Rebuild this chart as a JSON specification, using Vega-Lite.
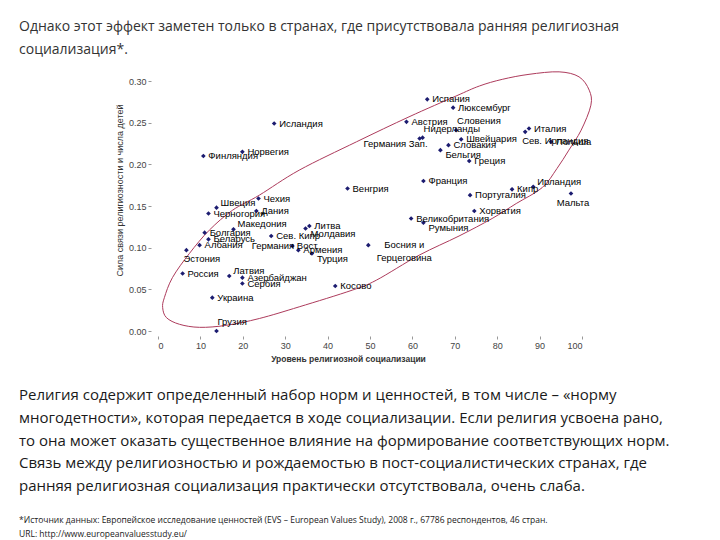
{
  "$schema": "https://vega.github.io/schema/vega-lite/v6.json",
  "background": "white",
  "padding": {"left": 19, "top": 19, "right": 5, "bottom": 0},
  "bounds": "flush",
  "spacing": 210,
  "title": {
    "text": ["Однако этот эффект заметен только в странах, где присутствовала ранняя религиозная", "социализация*."],
    "anchor": "start",
    "frame": "group",
    "dx": -139,
    "offset": 13,
    "font": "Open Sans",
    "fontSize": 14,
    "fontWeight": "normal",
    "lineHeight": 23,
    "color": "#333333"
  },
  "datasets": {
    "countries": [
      {"country": "Исландия", "x": 27.4, "y": 0.249},
      {"country": "Финляндия", "x": 10.7, "y": 0.210},
      {"country": "Норвегия", "x": 19.9, "y": 0.215},
      {"country": "Испания", "x": 63.5, "y": 0.278},
      {"country": "Люксембург", "x": 69.6, "y": 0.268},
      {"country": "Австрия", "x": 58.6, "y": 0.251},
      {"country": "Германия Зап.", "x": 61.7, "y": 0.231},
      {"country": "Нидерланды", "x": 62.4, "y": 0.232},
      {"country": "Словения", "x": 70.3, "y": 0.241},
      {"country": "Швейцария", "x": 71.5, "y": 0.230},
      {"country": "Словакия", "x": 68.5, "y": 0.223},
      {"country": "Бельгия", "x": 66.6, "y": 0.217},
      {"country": "Греция", "x": 73.4, "y": 0.204},
      {"country": "Италия", "x": 87.5, "y": 0.243},
      {"country": "Сев. Ирландия", "x": 86.6, "y": 0.239},
      {"country": "Польша", "x": 92.7, "y": 0.227},
      {"country": "Франция", "x": 62.6, "y": 0.180},
      {"country": "Венгрия", "x": 44.7, "y": 0.171},
      {"country": "Португалия", "x": 73.6, "y": 0.163},
      {"country": "Кипр", "x": 83.5, "y": 0.170},
      {"country": "Ирландия", "x": 88.5, "y": 0.173},
      {"country": "Мальта", "x": 97.4, "y": 0.165},
      {"country": "Хорватия", "x": 74.6, "y": 0.144},
      {"country": "Великобритания", "x": 59.7, "y": 0.135},
      {"country": "Румыния", "x": 62.6, "y": 0.130},
      {"country": "Литва", "x": 35.7, "y": 0.126},
      {"country": "Молдавия", "x": 34.8, "y": 0.123},
      {"country": "Босния и\nГерцеговина", "x": 49.6, "y": 0.103},
      {"country": "Косово", "x": 41.8, "y": 0.054},
      {"country": "Сев. Кипр", "x": 26.7, "y": 0.114},
      {"country": "Германия Вост.", "x": 31.7, "y": 0.102},
      {"country": "Армения", "x": 33.1, "y": 0.097},
      {"country": "Турция", "x": 36.3, "y": 0.093},
      {"country": "Швеция", "x": 13.8, "y": 0.148},
      {"country": "Чехия", "x": 23.7, "y": 0.159},
      {"country": "Черногория", "x": 11.9, "y": 0.141},
      {"country": "Дания", "x": 23.2, "y": 0.144},
      {"country": "Македония", "x": 17.8, "y": 0.122},
      {"country": "Болгария", "x": 11.0, "y": 0.118},
      {"country": "Беларусь", "x": 11.9, "y": 0.110},
      {"country": "Албания", "x": 9.8, "y": 0.103},
      {"country": "Эстония", "x": 6.7, "y": 0.097},
      {"country": "Россия", "x": 5.8, "y": 0.069},
      {"country": "Латвия", "x": 16.8, "y": 0.066},
      {"country": "Азербайджан", "x": 19.9, "y": 0.064},
      {"country": "Сербия", "x": 19.9, "y": 0.057},
      {"country": "Украина", "x": 12.8, "y": 0.040},
      {"country": "Грузия", "x": 13.8, "y": 0.0}
    ],
    "ellipse": [
      {"i": 1, "x": 102.1, "y": 0.271},
      {"i": 2, "x": 101.7, "y": 0.289},
      {"i": 3, "x": 99.3, "y": 0.305},
      {"i": 4, "x": 94.6, "y": 0.311},
      {"i": 5, "x": 87.5, "y": 0.308},
      {"i": 6, "x": 81.2, "y": 0.302},
      {"i": 7, "x": 75.8, "y": 0.294},
      {"i": 8, "x": 70.3, "y": 0.282},
      {"i": 9, "x": 59.2, "y": 0.257},
      {"i": 10, "x": 46.8, "y": 0.227},
      {"i": 11, "x": 33.3, "y": 0.193},
      {"i": 12, "x": 23.9, "y": 0.163},
      {"i": 13, "x": 17.6, "y": 0.145},
      {"i": 14, "x": 12.1, "y": 0.121},
      {"i": 15, "x": 7.4, "y": 0.093},
      {"i": 16, "x": 3.4, "y": 0.064},
      {"i": 17, "x": 1.5, "y": 0.040},
      {"i": 18, "x": 1.1, "y": 0.028},
      {"i": 19, "x": 2.0, "y": 0.016},
      {"i": 20, "x": 5.1, "y": 0.008},
      {"i": 21, "x": 9.8, "y": 0.0044},
      {"i": 22, "x": 16.1, "y": 0.0068},
      {"i": 23, "x": 23.9, "y": 0.015},
      {"i": 24, "x": 33.3, "y": 0.029},
      {"i": 25, "x": 45.8, "y": 0.049},
      {"i": 26, "x": 51.5, "y": 0.061},
      {"i": 27, "x": 61.6, "y": 0.091},
      {"i": 28, "x": 71.0, "y": 0.114},
      {"i": 29, "x": 78.8, "y": 0.135},
      {"i": 30, "x": 84.5, "y": 0.153},
      {"i": 31, "x": 90.6, "y": 0.172},
      {"i": 32, "x": 94.1, "y": 0.195},
      {"i": 33, "x": 96.9, "y": 0.217},
      {"i": 34, "x": 99.8, "y": 0.241}
    ]
  },
  "vconcat": [
    {
      "width": 424,
      "height": 250,
      "encoding": {
        "x": {
          "field": "x", "type": "quantitative",
          "scale": {"domain": [0, 100], "nice": false, "zero": false},
          "axis": {
            "title": "Уровень религиозной социализации",
            "values": [0, 10, 20, 30, 40, 50, 60, 70, 80, 90, 100],
            "format": "d",
            "grid": false, "domain": false,
            "offset": 5, "tickSize": 3, "tickColor": "#999999",
            "labelPadding": 2, "labelFont": "Liberation Sans", "labelFontSize": 9, "labelColor": "#444444",
            "titleFont": "Liberation Sans", "titleFontSize": 8.5, "titleFontWeight": "bold", "titleColor": "#333333",
            "titlePadding": 4, "titleX": 190, "titleAnchor": "middle"
          }
        },
        "y": {
          "field": "y", "type": "quantitative",
          "scale": {"domain": [0, 0.3], "nice": false, "zero": false},
          "axis": {
            "title": "Сила связи религиозности и числа детей",
            "values": [0, 0.05, 0.1, 0.15, 0.2, 0.25, 0.3],
            "format": ".2f",
            "grid": false, "domain": false,
            "offset": 7, "tickSize": 3, "tickColor": "#999999",
            "labelPadding": 2, "labelFont": "Liberation Sans", "labelFontSize": 9, "labelColor": "#444444",
            "titleFont": "Liberation Sans", "titleFontSize": 9, "titleFontWeight": "normal", "titleColor": "#333333",
            "titlePadding": 4, "titleY": 109, "titleAnchor": "middle"
          }
        }
      },
      "layer": [
        {
          "data": {"name": "ellipse"},
          "mark": {"type": "line", "interpolate": "cardinal-closed", "color": "#ad3b5c", "strokeWidth": 1},
          "encoding": {"order": {"field": "i", "type": "quantitative"}}
        },
        {
          "data": {"name": "countries"},
          "mark": {"type": "point", "shape": "diamond", "filled": true, "size": 22, "color": "#1c1c70", "opacity": 1}
        },
        {
          "data": {"name": "countries"},
          "transform": [{"filter": {"field": "country", "oneOf": ["Исландия", "Финляндия", "Норвегия", "Испания", "Люксембург", "Австрия", "Швейцария", "Словакия", "Греция", "Италия", "Польша", "Франция", "Венгрия", "Португалия", "Кипр", "Хорватия", "Великобритания", "Литва", "Косово", "Сев. Кипр", "Армения", "Чехия", "Черногория", "Дания", "Болгария", "Беларусь", "Албания", "Россия", "Азербайджан", "Сербия", "Украина"]}}],
          "mark": {"type": "text", "align": "left", "baseline": "middle", "dx": 5, "dy": 0, "font": "Liberation Sans", "fontSize": 9.5, "color": "#000000"},
          "encoding": {"text": {"field": "country"}}
        },
        {
          "data": {"name": "countries"},
          "transform": [{"filter": {"field": "country", "oneOf": ["Ирландия", "Швеция", "Македония", "Латвия"]}}],
          "mark": {"type": "text", "align": "left", "baseline": "middle", "dx": 4, "dy": -5, "font": "Liberation Sans", "fontSize": 9.5, "color": "#000000"},
          "encoding": {"text": {"field": "country"}}
        },
        {
          "data": {"name": "countries"},
          "transform": [{"filter": {"field": "country", "oneOf": ["Бельгия", "Румыния", "Молдавия", "Турция"]}}],
          "mark": {"type": "text", "align": "left", "baseline": "middle", "dx": 5, "dy": 5, "font": "Liberation Sans", "fontSize": 9.5, "color": "#000000"},
          "encoding": {"text": {"field": "country"}}
        },
        {
          "data": {"name": "countries"},
          "transform": [{"filter": {"field": "country", "oneOf": ["Сев. Ирландия", "Эстония"]}}],
          "mark": {"type": "text", "align": "left", "baseline": "middle", "dx": -3, "dy": 9, "font": "Liberation Sans", "fontSize": 9.5, "color": "#000000"},
          "encoding": {"text": {"field": "country"}}
        },
        {
          "data": {"name": "countries"},
          "transform": [{"filter": {"field": "country", "oneOf": ["Мальта"]}}],
          "mark": {"type": "text", "align": "center", "baseline": "middle", "dx": 2, "dy": 9, "font": "Liberation Sans", "fontSize": 9.5, "color": "#000000"},
          "encoding": {"text": {"field": "country"}}
        },
        {
          "data": {"name": "countries"},
          "transform": [{"filter": {"field": "country", "oneOf": ["Словения", "Грузия", "Нидерланды"]}}],
          "mark": {"type": "text", "align": "left", "baseline": "middle", "dx": 1, "dy": -9, "font": "Liberation Sans", "fontSize": 9.5, "color": "#000000"},
          "encoding": {"text": {"field": "country"}}
        },
        {
          "data": {"name": "countries"},
          "transform": [{"filter": {"field": "country", "oneOf": ["Германия Зап."]}}],
          "mark": {"type": "text", "align": "right", "baseline": "middle", "dx": 8, "dy": 5, "font": "Liberation Sans", "fontSize": 9.5, "color": "#000000"},
          "encoding": {"text": {"field": "country"}}
        },
        {
          "data": {"name": "countries"},
          "transform": [{"filter": {"field": "country", "oneOf": ["Германия Вост."]}}],
          "mark": {"type": "text", "align": "center", "baseline": "middle", "dx": -7, "dy": 0, "font": "Liberation Sans", "fontSize": 9.5, "color": "#000000"},
          "encoding": {"text": {"field": "country"}}
        },
        {
          "data": {"name": "countries"},
          "transform": [{"filter": {"field": "country", "oneOf": ["Босния и\nГерцеговина"]}}],
          "mark": {"type": "text", "align": "center", "baseline": "middle", "dx": 36, "dy": 0, "lineBreak": "\n", "lineHeight": 13, "font": "Liberation Sans", "fontSize": 9.5, "color": "#000000"},
          "encoding": {"text": {"field": "country"}}
        }
      ]
    },
    {
      "width": 424,
      "height": 1,
      "data": {"values": [{"a": 1}]},
      "mark": {"type": "point", "opacity": 0},
      "encoding": {},
      "title": {
        "text": [
          "Религия содержит определенный набор норм и ценностей, в том числе – «норму",
          "многодетности», которая передается в ходе социализации. Если религия усвоена рано,",
          "то она может оказать существенное влияние на формирование соответствующих норм.",
          "Связь между религиозностью и рождаемостью в пост-социалистических странах, где",
          "ранняя религиозная социализация практически отсутствовала, очень слаба."
        ],
        "subtitle": [
          "*Источник данных: Европейское исследование ценностей (EVS – European Values Study), 2008 г., 67786 респондентов, 46 стран.",
          "URL: http://www.europeanvaluesstudy.eu/"
        ],
        "anchor": "start",
        "frame": "group",
        "orient": "top",
        "dx": -139,
        "offset": 0,
        "font": "Open Sans",
        "fontSize": 15,
        "fontWeight": "normal",
        "lineHeight": 22.8,
        "color": "#1a1a1a",
        "subtitleFont": "Open Sans",
        "subtitleFontSize": 8.5,
        "subtitleLineHeight": 14,
        "subtitleColor": "#1a1a1a",
        "subtitlePadding": 22
      }
    }
  ],
  "config": {"view": {"stroke": null}, "font": "Liberation Sans"}
}
